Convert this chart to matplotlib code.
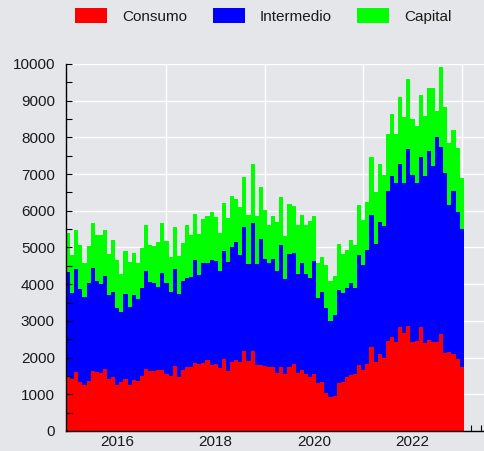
import numpy as np
import pandas as pd
import matplotlib
matplotlib.use('Agg')
import matplotlib.pyplot as plt
from matplotlib.ticker import MultipleLocator

# meses: ene 2015 - ene 2023
meses = pd.date_range('2015-01-01', periods=97, freq='MS')

consumo = [1480, 1420, 1600, 1340, 1250, 1360, 1640, 1600, 1570, 1690,
           1420, 1460, 1250, 1340, 1420, 1240, 1390, 1360, 1510, 1680,
           1640, 1640, 1660, 1660, 1540, 1510, 1770, 1460, 1660, 1740,
           1740, 1840, 1830, 1860, 1940, 1800, 1830, 1710, 1960, 1640,
           1890, 1940, 1890, 2190, 1910, 2170, 1800, 1800, 1770, 1740,
           1750, 1590, 1740, 1540, 1750, 1830, 1590, 1660, 1550, 1480,
           1550, 1300, 1340, 1030, 920, 950, 1300, 1340, 1460, 1530,
           1550, 1800, 1660, 1830, 2280, 1890, 2100, 2000, 2460, 2570,
           2430, 2840, 2660, 2860, 2430, 2460, 2840, 2390, 2480, 2430,
           2430, 2640, 2120, 2140, 2090, 1950, 1750]

intermedio = [2860, 2340, 2810, 2540, 2390, 2660, 2790, 2500, 2430, 2520,
              2290, 2330, 2110, 1910, 2320, 2140, 2320, 2250, 2380, 2690,
              2430, 2400, 2270, 2640, 2500, 2290, 2640, 2270, 2430, 2420,
              2450, 2820, 2410, 2710, 2630, 2860, 2810, 2660, 2940, 2970,
              3120, 3220, 2910, 3360, 2640, 3490, 2750, 3420, 2920, 2830,
              2930, 2780, 3320, 2600, 3060, 3020, 2690, 2930, 2740, 2700,
              3080, 2320, 2450, 2320, 2090, 2210, 2540, 2410, 2440, 2500,
              2340, 3000, 2860, 3090, 3610, 3210, 3590, 3590, 4080, 4380,
              4320, 4430, 4090, 4820, 4540, 4310, 4630, 4560, 5160, 4790,
              5570, 5090, 4910, 4020, 4450, 4010, 3750]

capital = [1050, 1040, 1070, 1200, 930, 1030, 1240, 1250, 1340, 1270,
           1120, 1420, 1300, 1030, 1160, 1220, 1140, 970, 1090, 1230,
           1000, 1010, 1230, 1360, 1150, 940, 1150, 1050, 1040, 1450,
           1140, 1250, 1130, 1200, 1300, 1310, 1180, 1030, 1320, 1200,
           1400, 1170, 1300, 1360, 1340, 1620, 1310, 1440, 1320, 1050,
           1180, 1320, 1310, 1170, 1370, 1290, 1320, 1290, 1320, 1530,
           1230, 970, 940, 1180, 1090, 1060, 1250, 1070, 1040, 1180,
           1180, 1360, 1240, 1320, 1570, 1400, 1590, 1390, 1540, 1690,
           1340, 1830, 1800, 1900, 1530, 1540, 1680, 1640, 1700, 2120,
           720, 2180, 1790, 1680, 1660, 1740, 1400]

series = ['Consumo', 'Intermedio', 'Capital']
colores = ['#ff0000', '#0000ff', '#00ff00']
anios_etiqueta = [2016, 2018, 2020, 2022]
anios_grilla = [2017, 2019, 2021, 2023]

plt.rcParams['font.family'] = ['Liberation Sans', 'DejaVu Sans']
plt.rcParams['font.size'] = 11

fondo = '#e5e6e9'
texto = '#1a1a1a'

fig = plt.figure(figsize=(4.84, 4.51), dpi=100, facecolor=fondo)
ax = fig.add_axes([66 / 484, 20 / 451, 418 / 484, 367 / 451])
ax.set_facecolor(fondo)

# posicion en años decimales
x = np.asarray(meses.year + (meses.month - 1) / 12, dtype=float)
ancho = 1 / 12

base = np.zeros(len(x))
for nombre, valores, color in zip(series, [consumo, intermedio, capital], colores):
    ax.bar(x, valores, width=ancho, bottom=base, color=color,
           linewidth=0, label=nombre)
    base = base + np.array(valores)

# grilla blanca debajo de las barras
for v in range(1000, 10001, 1000):
    ax.axhline(v, color='white', lw=1.0, zorder=0.5)
for a in anios_grilla:
    ax.axvline(a, color='white', lw=1.0, zorder=0.5)

ax.set_xlim(2015 - 1 / 24, 2015 - 1 / 24 + 418 / (4.1 * 12))
ax.set_ylim(0, 10000)

ax.set_xticks(anios_etiqueta)
ax.xaxis.set_minor_locator(MultipleLocator(0.2))
ax.yaxis.set_major_locator(MultipleLocator(1000))
ax.yaxis.set_minor_locator(MultipleLocator(500))
ax.tick_params(axis='both', which='both', direction='in', length=4,
               width=0.8, color='black', labelcolor=texto)
ax.tick_params(axis='x', pad=3)
ax.tick_params(axis='y', pad=8)

# ticks x quedan debajo de las barras, los de y por encima
ax.set_axisbelow(True)
ax.yaxis.set_zorder(2.5)

for lado in ['top', 'right']:
    ax.spines[lado].set_visible(False)
for lado in ['left', 'bottom']:
    ax.spines[lado].set_color('black')
    ax.spines[lado].set_linewidth(1.0)

fig.legend(loc='center', bbox_to_anchor=(0.544, 0.9645), ncol=3,
           frameon=False, handlelength=2.1, handleheight=1.1,
           handletextpad=0.98, columnspacing=1.67, fontsize=11,
           labelcolor=texto)

fig.savefig('out.png', dpi=100, facecolor=fondo)
